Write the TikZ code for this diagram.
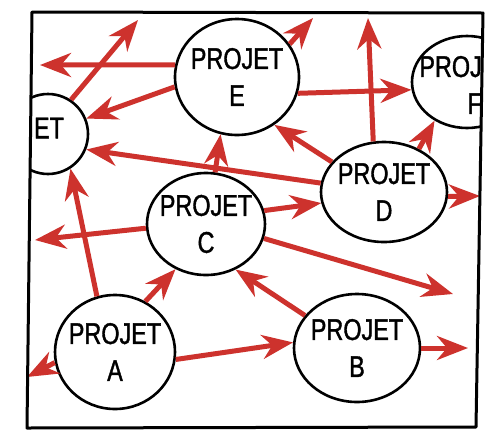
\documentclass[tikz,border=0pt]{standalone}
\usepackage{fontspec}
\newfontfamily\handfont[FakeStretch=0.78,FakeBold=1.2]{Liberation Sans}
\usetikzlibrary{arrows.meta,shapes.geometric}
\definecolor{arrred}{RGB}{205,50,45}
\begin{document}
\begin{tikzpicture}[x=1pt,y=-1pt,
  proj/.style={ellipse, draw=black, line width=2.6pt, inner sep=0pt},
  txt/.style={font=\handfont\fontsize{30}{37}\selectfont, align=center, text=black, inner sep=0pt},
  arr/.style={draw=arrred, line width=5pt, -{Stealth[length=31pt,width=24pt,inset=10pt]}},
  frameline/.style={draw=black, line width=3pt, line join=round}
]
\useasboundingbox (0,0) rectangle (490,432);
\coordinate (f1) at (32,12);
\coordinate (f2) at (483,13);
\coordinate (f3) at (476,427);
\coordinate (f4) at (27,428);
\begin{scope}
\clip (f1) -- (f2) -- (f3) -- (f4) -- cycle;
% nodes
\node[proj, minimum width=124pt, minimum height=116pt, label={[txt]center:PROJET\\E}] (E) at (237,77) {};
\node[proj, minimum width=110pt, minimum height=92pt] (F) at (467,82) {};
\node[txt, anchor=east, align=right] (Ftxt) at (482,85) {PROJ\\F};
\node[proj, minimum width=80pt, minimum height=80pt] (ET) at (48,134) {};
\node[txt] (ETtxt) at (49,128) {ET};
\node[proj, minimum width=126pt, minimum height=100pt, label={[txt]center:PROJET\\D}] (D) at (384,192) {};
\node[proj, minimum width=118pt, minimum height=102pt, label={[txt]center:PROJET\\C}] (C) at (206,224) {};
\node[proj, minimum width=120pt, minimum height=114pt, label={[txt]center:PROJET\\A}] (A) at (115,352) {};
\node[proj, minimum width=126pt, minimum height=108pt, label={[txt]center:PROJET\\B}] (B) at (357,348) {};
% free ends
\coordinate (t1) at (40,65);
\coordinate (t3) at (138,20);
\coordinate (t6) at (35,240);
\coordinate (t7) at (27,377);
\coordinate (t10) at (468,348);
\coordinate (t12) at (453,294);
\coordinate (t17) at (368,18);
\coordinate (t19) at (313,18);
\coordinate (t20) at (480,196);
% arrows
\draw[arr] (E.169) -- (t1);
\draw[arr] (E.189) -- (ET.22);
\draw[arr] (ET.56) -- (t3);
\draw[arr] (D.172) -- (ET.-22);
\draw[arr] (A.108) -- (ET.-57);
\draw[arr] (C.184) -- (t6);
\draw[arr] (A.190) -- (t7);
\draw[arr] (A.59) -- (C.236);
\draw[arr] (A.-7) -- (B.175);
\draw[arr] (B.0) -- (t10);
\draw[arr] (B.148) -- (C.-57);
\draw[arr] (C.-14) -- (t12);
\draw[arr] (C.13) -- (D.190);
\draw[arr] (C.80) -- (E.-106);
\draw[arr] (D.150) -- (E.-52);
\draw[arr] (E.-15) -- (F.188);
\draw[arr] (D.102) -- (t17);
\draw[arr] (D.51) -- (F.230);
\draw[arr] (E.32) -- (t19);
\draw[arr] (D.-4) -- (t20);
\end{scope}
\draw[frameline] (f1) -- (f2) -- (f3) -- (f4) -- cycle;
\end{tikzpicture}
\end{document}
